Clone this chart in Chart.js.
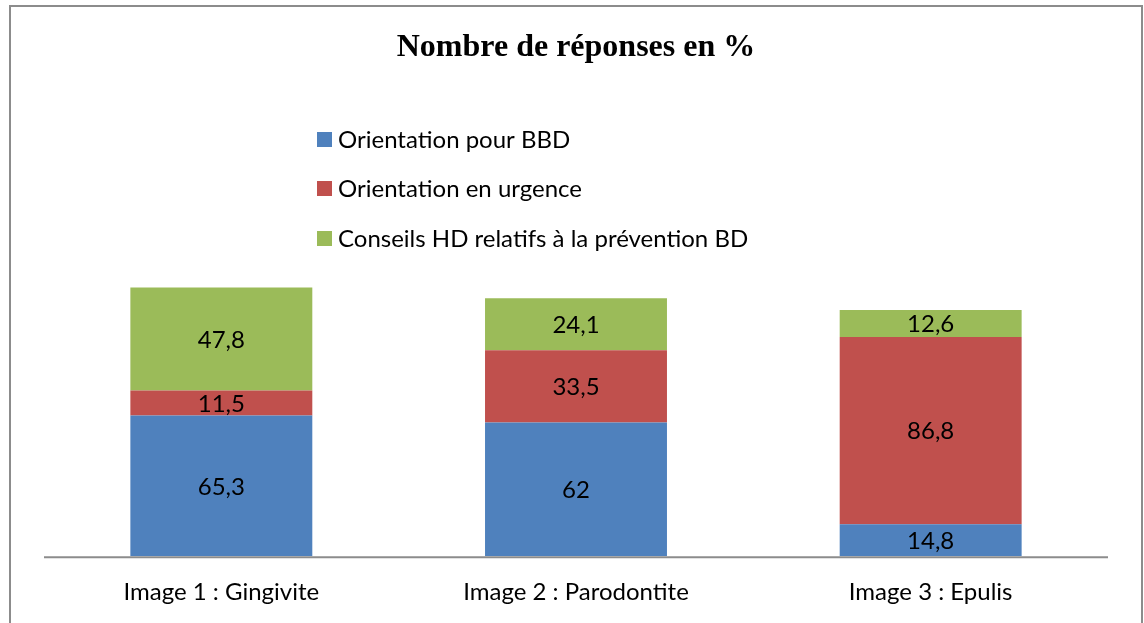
<!DOCTYPE html>
<html>
<head>
<meta charset="utf-8">
<script src="https://cdn.jsdelivr.net/npm/chart.js@4/dist/chart.umd.min.js"></script>
<style>
html,body{margin:0;padding:0;background:#fff;overflow:hidden;}
#wrap{width:1144px;height:623px;position:relative;overflow:hidden;}
</style>
</head>
<body>
<div id="wrap"><canvas id="c" width="1144" height="629"></canvas></div>
<script>
const categories = ["Image 1 : Gingivite", "Image 2 : Parodontite", "Image 3 : Epulis"];
const seriesNames = ["Orientation pour BBD", "Orientation en urgence", "Conseils HD relatifs à la prévention BD"];
const bbd = [65.3, 62, 14.8];
const urgence = [11.5, 33.5, 86.8];
const conseils = [47.8, 24.1, 12.6];
const colors = ["#4F81BD", "#C0504D", "#9BBB59"];
const titleText = "Nombre de réponses en %";

const FONT = "Lato";
const FSIZE = 24;

const borderPlugin = {
  id: 'frame',
  beforeDraw(chart) {
    const ctx = chart.ctx;
    ctx.save();
    ctx.fillStyle = '#fff';
    ctx.fillRect(0, 0, chart.width, chart.height);
    ctx.strokeStyle = '#8c8c8c';
    ctx.lineWidth = 2;
    ctx.strokeRect(10, 6, 1132, 640);
    ctx.restore();
  }
};

const axisLinePlugin = {
  id: 'axisline',
  afterDatasetsDraw(chart) {
    const ctx = chart.ctx;
    const bars = chart.getDatasetMeta(0).data;
    const n = bars.length;
    const step = (bars[n - 1].x - bars[0].x) / (n - 1);
    const x1 = bars[0].x - step / 2;
    const x2 = bars[n - 1].x + step / 2;
    const y0 = chart.scales.y.getPixelForValue(0);
    ctx.save();
    ctx.strokeStyle = '#8c8c8c';
    ctx.lineWidth = 2;
    ctx.beginPath();
    ctx.moveTo(x1, y0 + 1);
    ctx.lineTo(x2, y0 + 1);
    ctx.stroke();
    ctx.restore();
  }
};

const legendPlugin = {
  id: 'vlegend',
  afterDraw(chart) {
    const ctx = chart.ctx;
    ctx.save();
    ctx.font = FSIZE + "px " + FONT;
    ctx.textBaseline = 'middle';
    const x = 317, ys = [139, 188, 238];
    chart.data.datasets.forEach((ds, i) => {
      ctx.fillStyle = ds.backgroundColor;
      ctx.fillRect(x, ys[i] - 7, 15, 15);
      ctx.fillStyle = '#000';
      ctx.fillText(ds.label, x + 21, ys[i] + 1);
    });
    ctx.restore();
  }
};

const valuePlugin = {
  id: 'values',
  afterDatasetsDraw(chart) {
    const ctx = chart.ctx;
    ctx.save();
    ctx.font = FSIZE + "px " + FONT;
    ctx.textAlign = 'center';
    ctx.textBaseline = 'middle';
    ctx.fillStyle = '#000';
    chart.data.datasets.forEach((ds, di) => {
      const meta = chart.getDatasetMeta(di);
      meta.data.forEach((bar, i) => {
        const p = bar.getProps(['x', 'y', 'base'], true);
        const cy = (p.y + p.base) / 2;
        ctx.fillText(String(ds.data[i]).replace('.', ','), p.x, cy + 1);
      });
    });
    ctx.restore();
  }
};

new Chart(document.getElementById('c'), {
  type: 'bar',
  data: {
    labels: categories,
    datasets: [
      { label: seriesNames[0], data: bbd, backgroundColor: colors[0] },
      { label: seriesNames[1], data: urgence, backgroundColor: colors[1] },
      { label: seriesNames[2], data: conseils, backgroundColor: colors[2] }
    ]
  },
  options: {
    responsive: false,
    animation: false,
    devicePixelRatio: 1,
    layout: { padding: { top: 0, left: 44, right: 36, bottom: 0 } },
    datasets: { bar: { barPercentage: 0.513, categoryPercentage: 1.0, borderWidth: 0 } },
    plugins: {
      legend: { display: false },
      tooltip: { enabled: false },
      title: {
        display: true,
        text: titleText,
        color: '#000',
        font: { family: "Liberation Serif", size: 32, weight: 'bold' },
        padding: { top: 29, bottom: 194 }
      }
    },
    scales: {
      x: {
        stacked: true,
        grid: { display: false, drawTicks: false },
        border: { display: false },
        ticks: { color: '#000', font: { family: FONT, size: FSIZE }, padding: 22 }
      },
      y: {
        stacked: true,
        display: false,
        min: 0,
        max: 136.7
      }
    }
  },
  plugins: [borderPlugin, axisLinePlugin, legendPlugin, valuePlugin]
});
</script>
</body>
</html>
